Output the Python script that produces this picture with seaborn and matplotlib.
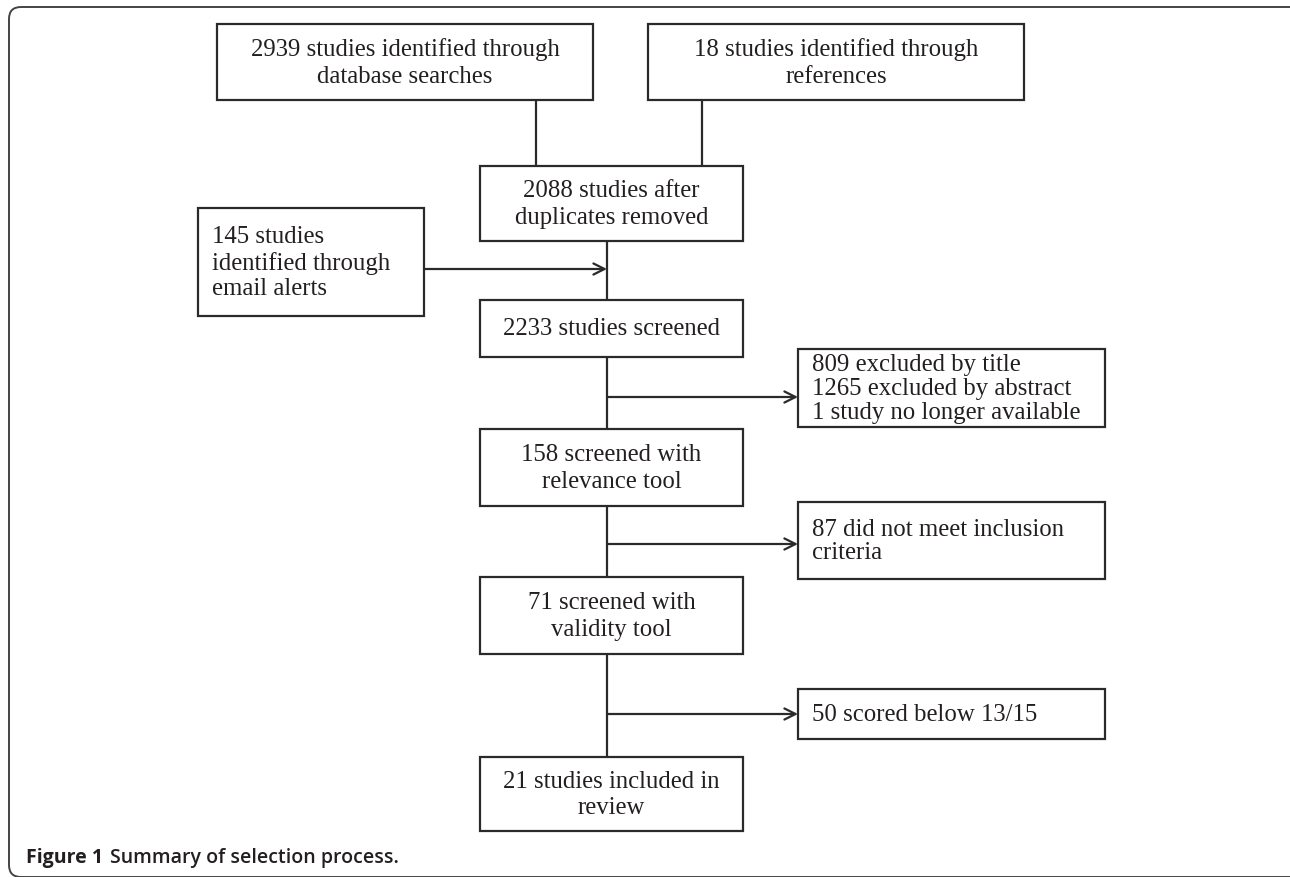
import matplotlib
matplotlib.use("Agg")
import matplotlib.pyplot as plt
import seaborn as sns
from matplotlib.patches import Rectangle, FancyBboxPatch

# flow chart content
sources = ["2939 studies identified through\ndatabase searches",
           "18 studies identified through\nreferences"]
extra_source = "145 studies\nidentified through\nemail alerts"
main_steps = ["2088 studies after\nduplicates removed",
              "2233 studies screened",
              "158 screened with\nrelevance tool",
              "71 screened with\nvalidity tool",
              "21 studies included in\nreview"]
exclusions = ["809 excluded by title\n1265 excluded by abstract\n1 study no longer available",
              "87 did not meet inclusion\ncriteria",
              "50 scored below 13/15"]
caption_bold = "Figure 1"
caption_text = "Summary of selection process."

# layout in pixels (x0, x1, y0, y1), y grows downward
src_boxes = [(217, 593, 25, 101), (648, 1024, 25, 101)]
src_links = [536, 702]
extra_box = (198, 424, 209, 317)
main_x = (480, 743)
main_y = [(167, 242), (301, 358), (430, 507), (578, 655), (758, 832)]
spine_x = 607
excl_x = (798, 1105)
excl_y = [(350, 428), (503, 580), (690, 740)]
excl_arrow_y = [398, 545, 715]
extra_arrow_y = 270

sns.set_theme(style="white")
plt.rcParams["font.family"] = ["Liberation Serif", "DejaVu Serif"]

EDGE = "#2a2a2a"
INK = "#231f20"
FS = 17.8

fig = plt.figure(figsize=(12.9, 8.78), dpi=100)
ax = fig.add_axes([0, 0, 1, 1])
ax.set_xlim(0, 1290)
ax.set_ylim(878, 0)
ax.axis("off")


def box(x0, x1, y0, y1, text, align="center", ls=1.25):
    ax.add_patch(Rectangle((x0, y0), x1 - x0, y1 - y0, fill=False,
                           edgecolor=EDGE, lw=1.6, zorder=2))
    tx = (x0 + x1) / 2 if align == "center" else x0 + 14
    ax.text(tx, (y0 + y1) / 2, text, ha=align, va="center", fontsize=FS,
            color=INK, linespacing=ls, multialignment=align, zorder=3)


def line(xs, ys):
    ax.plot(xs, ys, color=EDGE, lw=1.6, solid_capstyle="butt", zorder=1)


def arrow(x0, x1, y):
    ax.annotate("", xy=(x1, y), xytext=(x0, y),
                arrowprops=dict(arrowstyle="->", color=EDGE, lw=1.6,
                                mutation_scale=20, shrinkA=0, shrinkB=0))


# outer frame
ax.add_patch(FancyBboxPatch((9, 8), 1300, 870, boxstyle="round,pad=0,rounding_size=12",
                            fill=False, edgecolor="#444444", lw=1.4, clip_on=True))

# sources
for (x0, x1, y0, y1), label, lx in zip(src_boxes, sources, src_links):
    box(x0, x1, y0, y1, label)
    line([lx, lx], [y1, main_y[0][0]])

# main column
for (y0, y1), label in zip(main_y, main_steps):
    box(main_x[0], main_x[1], y0, y1, label)
for (a, b) in zip(main_y[:-1], main_y[1:]):
    line([spine_x, spine_x], [a[1], b[0]])

# email alerts
box(*extra_box, extra_source, align="left", ls=1.22)

arrow(extra_box[1], spine_x, extra_arrow_y)

# exclusions
for (y0, y1), label, ay in zip(excl_y, exclusions, excl_arrow_y):
    box(excl_x[0], excl_x[1], y0, y1, label, align="left", ls=1.1)
    arrow(spine_x, excl_x[0], ay)

# caption
ax.text(26, 858, caption_bold, fontsize=14, fontweight="bold", color=INK,
        va="center", ha="left", family=["Open Sans", "DejaVu Sans"])
ax.text(110, 858, caption_text, fontsize=14, fontweight="semibold", color=INK,
        va="center", ha="left", family=["Open Sans", "DejaVu Sans"])

fig.savefig("out.png", dpi=100)
